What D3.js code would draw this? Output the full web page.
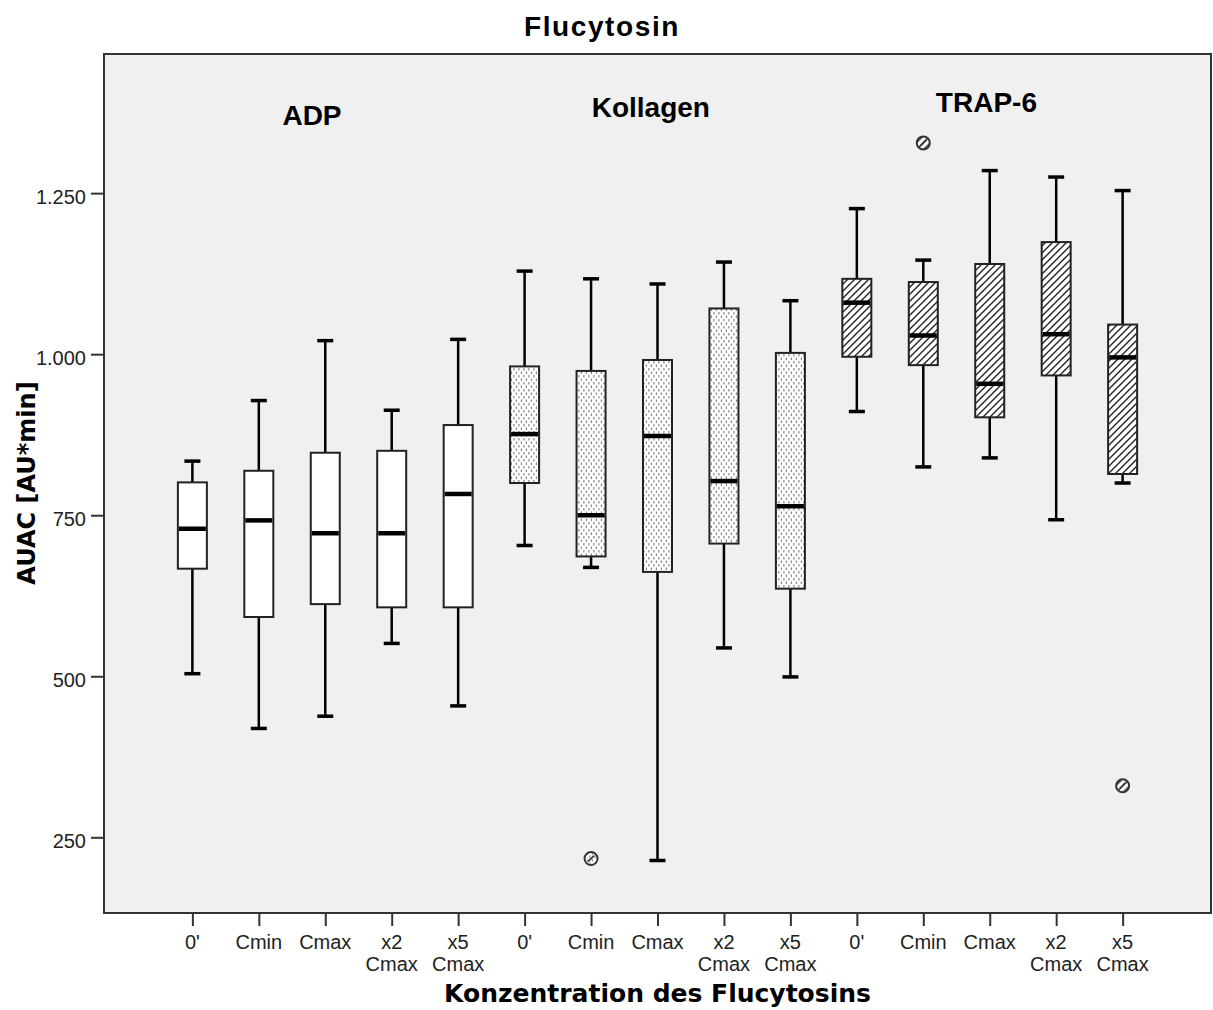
<!DOCTYPE html>
<html>
<head>
<meta charset="utf-8">
<script src="https://cdn.jsdelivr.net/npm/d3@7"></script>
<style>
body { margin: 0; background: #fff; }
</style>
</head>
<body>
<script>
// Werte
const groups = ['ADP', 'Kollagen', 'TRAP-6']
const concentrations = ["0'", 'Cmin', 'Cmax', 'x2\nCmax', 'x5\nCmax']
const whiskerLow = [504, 419, 438, 551, 454, 703, 669, 214, 544, 499, 911, 825, 839, 743, 800]
const q1 = [667, 592, 612, 607, 607, 800, 686, 662, 706, 636, 996, 983, 902, 967, 814]
const median = [729, 742, 722, 722, 783, 876, 750, 873, 803, 764, 1080, 1029, 954, 1031, 995]
const q3 = [801, 819, 847, 850, 890, 981, 974, 991, 1071, 1002, 1117, 1112, 1140, 1174, 1046]
const whiskerHigh = [834, 928, 1021, 913, 1023, 1129, 1117, 1109, 1143, 1083, 1226, 1146, 1285, 1275, 1254]
const outlierIndex = [6, 11, 14]
const outlierValues = [217, 1328, 330]
const yTicks = [250, 500, 750, 1000, 1250]

const width = 1213, height = 1010
const plotLeft = 104, plotRight = 1211, plotTop = 54, plotBottom = 913
const fills = ['#fff', 'url(#dots)', 'url(#hatch)']

let svg = d3.select('body')
    .append('svg')
    .attr('width', width)
    .attr('height', height)

let defs = svg.append('defs')
let dots = defs.append('pattern')
    .attr('id', 'dots')
    .attr('patternUnits', 'userSpaceOnUse')
    .attr('width', 5)
    .attr('height', 7)
dots.append('rect').attr('width', 5).attr('height', 7).attr('fill', '#fff')
dots.append('rect').attr('x', 0.8).attr('y', 0.5).attr('width', 1.2).attr('height', 2.5).attr('fill', '#888')
dots.append('rect').attr('x', 3.3).attr('y', 4).attr('width', 1.2).attr('height', 2.5).attr('fill', '#888')

let hatch = defs.append('pattern')
    .attr('id', 'hatch')
    .attr('patternUnits', 'userSpaceOnUse')
    .attr('width', 7)
    .attr('height', 7)
hatch.append('rect').attr('width', 7).attr('height', 7).attr('fill', '#fff')
hatch.append('path')
    .attr('d', 'M0,7L7,0M-1,1L1,-1M6,8L8,6')
    .attr('stroke', '#222')
    .attr('stroke-width', 1.4)

let x = d3.scaleLinear().domain([-0.33, 16.33]).range([plotLeft, plotRight])
let y = d3.scaleLinear().domain([132.5, 1466]).range([plotBottom, plotTop])

// Plotfläche
svg.append('rect')
    .attr('x', plotLeft)
    .attr('y', plotTop)
    .attr('width', plotRight - plotLeft)
    .attr('height', plotBottom - plotTop)
    .attr('fill', '#f0f0f0')
    .attr('stroke', '#333')
    .attr('stroke-width', 2)

// Achsen
const de = d3.formatLocale({ decimal: ',', thousands: '.', grouping: [3], currency: ['', ' €'] })
let yAxis = svg.append('g')
    .attr('transform', `translate(${plotLeft},0)`)
    .call(d3.axisLeft(y).tickValues(yTicks).tickSize(13).tickPadding(5).tickFormat(de.format(',d')))
yAxis.select('.domain').remove()
yAxis.selectAll('line').attr('stroke', '#333').attr('stroke-width', 2)
yAxis.selectAll('text')
    .attr('dy', '0.52em')
    .attr('fill', '#222')
    .style('font', '20px "Liberation Sans", Arial, sans-serif')

const positions = d3.range(1, 16)
let xAxis = svg.append('g')
    .attr('transform', `translate(0,${plotBottom})`)
    .call(d3.axisBottom(x).tickValues(positions).tickSize(13).tickFormat(''))
xAxis.select('.domain').remove()
xAxis.selectAll('line').attr('stroke', '#333').attr('stroke-width', 2)

let xLabels = svg.append('g')
    .selectAll('text')
    .data(positions)
    .enter()
    .append('text')
    .attr('text-anchor', 'middle')
    .attr('fill', '#222')
    .style('font', '20px "Liberation Sans", Arial, sans-serif')
xLabels.selectAll('tspan')
    .data(d => concentrations[(d - 1) % 5].split('\n').map(t => [d, t]))
    .enter()
    .append('tspan')
    .attr('x', d => x(d[0]))
    .attr('y', (d, i) => plotBottom + 36 + i * 22)
    .text(d => d[1])

// Boxplots
const boxW = 29, capW = 16
let boxes = svg.append('g')
    .selectAll('g')
    .data(positions)
    .enter()
    .append('g')

boxes.append('line')
    .attr('x1', d => x(d)).attr('x2', d => x(d))
    .attr('y1', d => y(whiskerLow[d - 1])).attr('y2', d => y(q1[d - 1]))
    .attr('stroke', '#000').attr('stroke-width', 2.5)
boxes.append('line')
    .attr('x1', d => x(d)).attr('x2', d => x(d))
    .attr('y1', d => y(q3[d - 1])).attr('y2', d => y(whiskerHigh[d - 1]))
    .attr('stroke', '#000').attr('stroke-width', 2.5)
boxes.selectAll('.cap')
    .data(d => [[d, whiskerLow[d - 1]], [d, whiskerHigh[d - 1]]])
    .enter()
    .append('line')
    .attr('class', 'cap')
    .attr('x1', d => x(d[0]) - capW / 2).attr('x2', d => x(d[0]) + capW / 2)
    .attr('y1', d => y(d[1])).attr('y2', d => y(d[1]))
    .attr('stroke', '#000').attr('stroke-width', 3.5)
boxes.append('rect')
    .attr('x', d => x(d) - boxW / 2)
    .attr('y', d => y(q3[d - 1]))
    .attr('width', boxW)
    .attr('height', d => y(q1[d - 1]) - y(q3[d - 1]))
    .attr('fill', d => fills[Math.floor((d - 1) / 5)])
    .attr('stroke', '#222')
    .attr('stroke-width', 2)
boxes.append('line')
    .attr('x1', d => x(d) - boxW / 2 + 1).attr('x2', d => x(d) + boxW / 2 - 1)
    .attr('y1', d => y(median[d - 1])).attr('y2', d => y(median[d - 1]))
    .attr('stroke', '#000').attr('stroke-width', 4.5)

// Ausreißer
let out = svg.append('g')
    .selectAll('g')
    .data(outlierIndex)
    .enter()
    .append('g')
    .attr('transform', (d, i) => `translate(${x(d + 1)},${y(outlierValues[i])})`)
out.append('circle')
    .attr('r', 6.5)
    .attr('fill', d => fills[Math.floor(d / 5)])
    .attr('stroke', '#333')
    .attr('stroke-width', 2)
out.append('line')
    .attr('x1', -3).attr('y1', 3).attr('x2', 3).attr('y2', -3)
    .attr('stroke', '#333').attr('stroke-width', 1.6)

// Gruppenbeschriftungen
const groupLabelPos = [2.8, 7.9, 12.95]
const groupLabelVal = [1356, 1368, 1376]
svg.append('g')
    .selectAll('text')
    .data(groups)
    .enter()
    .append('text')
    .attr('x', (d, i) => x(groupLabelPos[i]))
    .attr('y', (d, i) => y(groupLabelVal[i]))
    .attr('text-anchor', 'middle')
    .style('font', 'bold 28px "Liberation Sans", Arial, sans-serif')
    .text(d => d)

// Titel und Achsentitel
svg.append('text')
    .attr('x', 602)
    .attr('y', 36)
    .attr('text-anchor', 'middle')
    .style('font', 'bold 28px "Liberation Sans", Arial, sans-serif')
    .style('letter-spacing', '1.6px')
    .text('Flucytosin')

svg.append('text')
    .attr('x', (plotLeft + plotRight) / 2)
    .attr('y', 1002)
    .attr('text-anchor', 'middle')
    .style('font', 'bold 25px "DejaVu Sans", sans-serif')
    .text('Konzentration des Flucytosins')

svg.append('text')
    .attr('transform', 'translate(35,483) rotate(-90)')
    .attr('text-anchor', 'middle')
    .style('font', 'bold 24px "DejaVu Sans", sans-serif')
    .text('AUAC [AU*min]')
</script>
</body>
</html>
